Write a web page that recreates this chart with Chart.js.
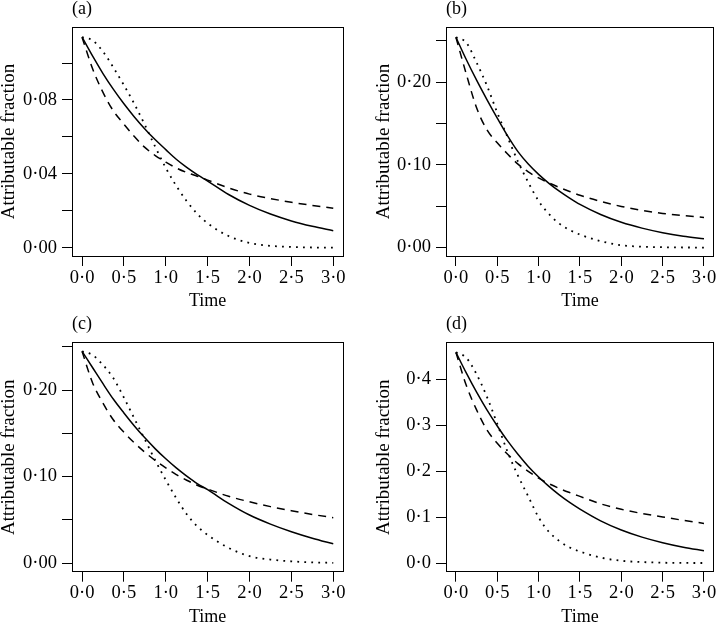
<!DOCTYPE html>
<html>
<head>
<meta charset="utf-8">
<script src="https://cdn.jsdelivr.net/npm/chart.js@4"></script>
<style>
html,body{margin:0;padding:0;background:#fff;overflow:hidden;width:719px;height:623px;position:relative;}
canvas{position:absolute;}
</style>
</head>
<body>
<canvas id="pa" width="360" height="310" style="left:0px;top:0px"></canvas>
<canvas id="pb" width="359" height="310" style="left:360px;top:0px"></canvas>
<canvas id="pc" width="360" height="315" style="left:0px;top:311px"></canvas>
<canvas id="pd" width="359" height="315" style="left:360px;top:311px"></canvas>
<script>
// ---- data ----
const times = [0, 0.125, 0.25, 0.375, 0.5, 0.625, 0.75, 0.875, 1.0, 1.125, 1.25, 1.375, 1.5, 1.75, 2.0, 2.25, 2.5, 2.75, 3.0];

const aSolid  = [0.1140, 0.1038, 0.0943, 0.0857, 0.0779, 0.0708, 0.0643, 0.0584, 0.0531, 0.0479, 0.0435, 0.0396, 0.0361, 0.0288, 0.0229, 0.0182, 0.0145, 0.0116, 0.0092];
const aDashed = [0.1140, 0.0970, 0.0841, 0.0740, 0.0669, 0.0602, 0.0543, 0.0499, 0.0463, 0.0432, 0.0407, 0.0387, 0.0366, 0.0324, 0.0290, 0.0266, 0.0246, 0.0229, 0.0214];
const aDotted = [0.1140, 0.1123, 0.1062, 0.0975, 0.0880, 0.0778, 0.0665, 0.0545, 0.0432, 0.0335, 0.0252, 0.0184, 0.0132, 0.0063, 0.0026, 0.0010, 0.0004, 0.0001, 0.0000];

const bSolid  = [0.2544, 0.2275, 0.2025, 0.1790, 0.1565, 0.1350, 0.1160, 0.1010, 0.0885, 0.0777, 0.0682, 0.0598, 0.0522, 0.0400, 0.0306, 0.0235, 0.0180, 0.0138, 0.0106];
const bDashed = [0.2544, 0.2100, 0.1690, 0.1425, 0.1268, 0.1132, 0.1010, 0.0915, 0.0842, 0.0782, 0.0728, 0.0679, 0.0633, 0.0558, 0.0498, 0.0450, 0.0413, 0.0387, 0.0365];
const bDotted = [0.2544, 0.2480, 0.2237, 0.1959, 0.1632, 0.1335, 0.1041, 0.0789, 0.0564, 0.0407, 0.0290, 0.0214, 0.0157, 0.0078, 0.0028, 0.0011, 0.0004, 0.0001, 0.0000];

const cSolid  = [0.2447, 0.2260, 0.2073, 0.1893, 0.1735, 0.1585, 0.1447, 0.1320, 0.1205, 0.1100, 0.1005, 0.0918, 0.0848, 0.0690, 0.0555, 0.0450, 0.0362, 0.0287, 0.0222];
const cDashed = [0.2447, 0.2085, 0.1848, 0.1653, 0.1511, 0.1389, 0.1281, 0.1185, 0.1100, 0.1022, 0.0957, 0.0900, 0.0855, 0.0772, 0.0708, 0.0652, 0.0605, 0.0562, 0.0524];
const cDotted = [0.2447, 0.2405, 0.2290, 0.2135, 0.1912, 0.1670, 0.1428, 0.1185, 0.0960, 0.0750, 0.0565, 0.0425, 0.0325, 0.0175, 0.0080, 0.0040, 0.0020, 0.0008, 0.0002];

const dSolid  = [0.4588, 0.4140, 0.3720, 0.3335, 0.2985, 0.2660, 0.2370, 0.2105, 0.1875, 0.1670, 0.1485, 0.1320, 0.1175, 0.0920, 0.0720, 0.0565, 0.0443, 0.0345, 0.0268];
const dDashed = [0.4588, 0.3870, 0.3335, 0.2900, 0.2608, 0.2370, 0.2165, 0.1995, 0.1850, 0.1728, 0.1625, 0.1535, 0.1452, 0.1290, 0.1170, 0.1080, 0.1005, 0.0930, 0.0864];
const dDotted = [0.4588, 0.4470, 0.4110, 0.3620, 0.3030, 0.2420, 0.1905, 0.1450, 0.0995, 0.0680, 0.0480, 0.0340, 0.0250, 0.0120, 0.0050, 0.0022, 0.0008, 0.0003, 0.0001];

const xTicks = [0, 0.5, 1.0, 1.5, 2.0, 2.5, 3.0];
const xTickLabels = ['0·0', '0·5', '1·0', '1·5', '2·0', '2·5', '3·0'];

const aYTicks = [0, 0.02, 0.04, 0.06, 0.08, 0.10];
const aYTickLabels = ['0·00', '', '0·04', '', '0·08', ''];
const bYTicks = [0, 0.05, 0.10, 0.15, 0.20, 0.25];
const bYTickLabels = ['0·00', '', '0·10', '', '0·20', ''];
const cYTicks = [0, 0.05, 0.10, 0.15, 0.20, 0.25];
const cYTickLabels = ['0·00', '', '0·10', '', '0·20', ''];
const dYTicks = [0, 0.1, 0.2, 0.3, 0.4];
const dYTickLabels = ['0·0', '0·1', '0·2', '0·3', '0·4'];

const panelLabels = ['(a)', '(b)', '(c)', '(d)'];
const xTitle = 'Time';
const yTitle = 'Attributable fraction';

// ---- drawing ----
const SERIF = "'Liberation Serif', 'Times New Roman', serif";
const TICK_FONT = {family: SERIF, size: 18.5, lineHeight: 1};

const alignPx = (p, w) => Math.round(p - w / 2) + w / 2;
const boxPlugin = {
  id: 'box',
  afterDatasetsDraw(chart) {
    const {ctx, chartArea: a} = chart;
    ctx.save();
    ctx.strokeStyle = '#000';
    ctx.lineWidth = 1;
    const l = alignPx(a.left, 1), r = alignPx(a.right, 1), t = alignPx(a.top, 1), b = alignPx(a.bottom, 1);
    ctx.strokeRect(l, t, r - l, b - t);
    ctx.restore();
  }
};

function makePanel(id, label, solid, dashed, dotted, yTicks, yTickLabels, yMin, yMax, g) {
  const pts = arr => times.map((t, i) => ({x: t, y: arr[i]}));
  const base = {borderColor: '#000', pointRadius: 0, fill: false, cubicInterpolationMode: 'monotone', borderCapStyle: 'butt'};
  new Chart(document.getElementById(id), {
    type: 'line',
    data: {
      datasets: [
        Object.assign({data: pts(solid), borderWidth: 1.5}, base),
        Object.assign({data: pts(dashed), borderWidth: 1.5, borderDash: [8, 6]}, base),
        Object.assign({data: pts(dotted), borderWidth: 1.8, borderDash: [1.8, 5.2]}, base)
      ]
    },
    options: {
      responsive: false,
      animation: false,
      devicePixelRatio: 1,
      events: [],
      layout: {padding: {left: g.pl, right: g.pr, top: g.pt, bottom: 0}},
      plugins: {
        legend: {display: false},
        tooltip: {enabled: false},
        title: {
          display: true, text: label, align: 'start', fullSize: false, color: '#000',
          font: {family: SERIF, size: 18, lineHeight: 1, weight: 'normal'},
          padding: {top: 0, bottom: 9}
        }
      },
      scales: {
        x: {
          type: 'linear', min: -0.12, max: 3.12,
          afterFit: s => { s.height = g.xh; },
          afterBuildTicks: s => { s.ticks = xTicks.map(v => ({value: v})); },
          ticks: {callback: (v, i) => xTickLabels[i], autoSkip: false, maxRotation: 0, minRotation: 0, padding: 2.5, color: '#000', font: TICK_FONT},
          grid: {drawOnChartArea: false, drawTicks: true, tickLength: 10, color: '#000', lineWidth: 1},
          border: {display: false},
          title: {display: true, text: xTitle, color: '#000', font: {family: SERIF, size: 18, lineHeight: 1}, padding: {top: 0, bottom: 0}}
        },
        y: {
          type: 'linear', min: yMin, max: yMax,
          afterFit: s => { s.width = g.yw; },
          afterBuildTicks: s => { s.ticks = yTicks.map(v => ({value: v})); },
          ticks: {callback: (v, i) => yTickLabels[i], autoSkip: false, padding: 5, color: '#000', font: TICK_FONT},
          grid: {drawOnChartArea: false, drawTicks: true, tickLength: 10, color: '#000', lineWidth: 1},
          border: {display: false},
          title: {display: true, text: yTitle, color: '#000', font: {family: SERIF, size: 19, lineHeight: 1}, padding: {top: 0, bottom: 0}}
        }
      }
    },
    plugins: [boxPlugin]
  });
}

makePanel('pa', panelLabels[0], aSolid, aDashed, aDotted, aYTicks, aYTickLabels, -0.0045, 0.1195,
  {pl: 0, pr: 16.7, pt: 0, yw: 72, xh: 54});
makePanel('pb', panelLabels[1], bSolid, bDashed, bDotted, bYTicks, bYTickLabels, -0.0102, 0.2668,
  {pl: 14.7, pr: 3, pt: 0, yw: 71.3, xh: 54});
makePanel('pc', panelLabels[2], cSolid, cDashed, cDotted, cYTicks, cYTickLabels, -0.0100, 0.2547,
  {pl: 0, pr: 16.7, pt: 4.7, yw: 72, xh: 54.3});
makePanel('pd', panelLabels[3], dSolid, dDashed, dDotted, dYTicks, dYTickLabels, -0.0188, 0.4798,
  {pl: 14.7, pr: 3, pt: 4.7, yw: 71.3, xh: 54.3});
</script>
</body>
</html>
